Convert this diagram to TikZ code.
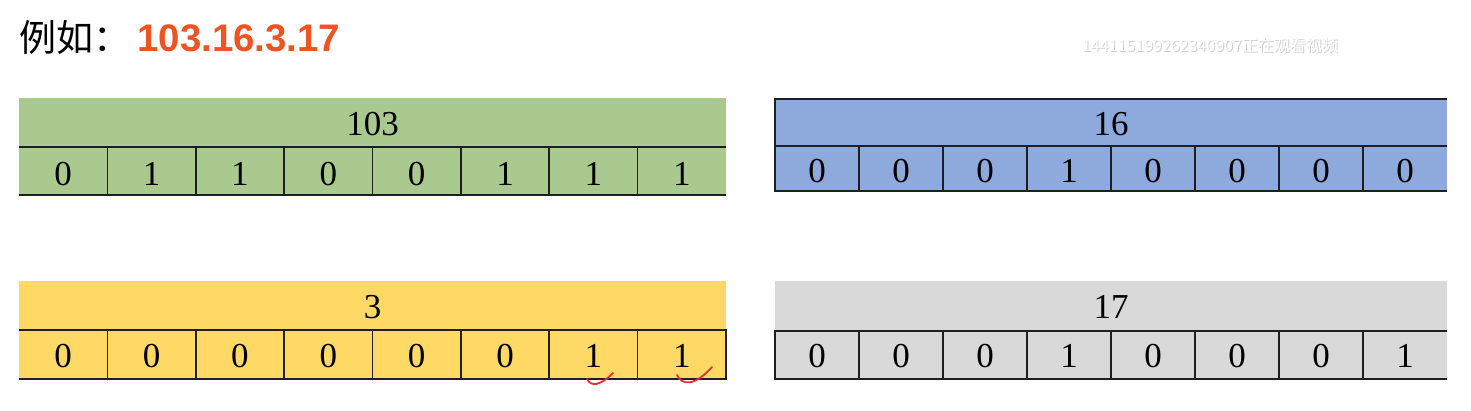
\documentclass[tikz,border=0pt]{standalone}
\usepackage{fontspec}
\setmainfont{Liberation Serif}
\newfontfamily\cjkfont{Noto Sans CJK SC}
\newfontfamily\arialfont{Liberation Sans}
\definecolor{cgreen}{HTML}{A9C98E}
\definecolor{cblue}{HTML}{8EA9DB}
\definecolor{cyellow}{HTML}{FFD966}
\definecolor{cgray}{HTML}{D9D9D9}
\definecolor{corange}{HTML}{F05322}
\definecolor{cred}{HTML}{E8302A}
\tikzset{
  digit/.style={font=\fontsize{17.5}{17.5}\selectfont, inner sep=0pt},
  gridline/.style={draw=black!88, line width=0.8pt},
  tick/.style={draw=cred, line width=0.9pt, line cap=round},
}
\begin{document}
\begin{tikzpicture}[x=0.5pt,y=-0.5pt]
\useasboundingbox (0,0) rectangle (1471,411);
\fill[white] (0,0) rectangle (1471,411);

% title
\node[anchor=base west, inner sep=0pt, font=\cjkfont\fontsize{18.5}{18.5}\selectfont] (title) at (19,52) {例如：};
\node[anchor=base west, inner sep=0pt, text=corange, font=\arialfont\bfseries\fontsize{19.2}{19.2}\selectfont] (addr) at (137,52) {103.16.3.17};
% watermark
\node[inner sep=0pt, text=black!18, font=\cjkfont\fontsize{8}{8}\selectfont] (wmshadow) at (1211,46) {144115199262340907正在观看视频};
\node[inner sep=0pt, text=white, font=\cjkfont\fontsize{8}{8}\selectfont] (wm) at (1210,45) {144115199262340907正在观看视频};

% ---- green block: 103 ----
\fill[cgreen] (19,98) rectangle (726,195);
\draw[gridline] (19,147) -- (726,147);
\draw[gridline] (19,195) -- (726,195);
\foreach \i in {1,...,7} \draw[gridline] ({19+\i*707/8},147) -- ({19+\i*707/8},195);
\node[digit] (g-head) at (372.5,124) {103};
\foreach \b [count=\i] in {0,1,1,0,0,1,1,1}
  \node[digit] (g-\i) at ({19+(\i-0.5)*707/8},174) {\b};

% ---- blue block: 16 ----
\fill[cblue] (775,99) rectangle (1447,191);
\draw[gridline] (1447,99) -- (775,99) -- (775,191) -- (1447,191);
\draw[gridline] (775,146) -- (1447,146);
\foreach \i in {1,...,7} \draw[gridline] ({775+\i*84},146) -- ({775+\i*84},191);
\node[digit] (b-head) at (1111,124) {16};
\foreach \b [count=\i] in {0,0,0,1,0,0,0,0}
  \node[digit] (b-\i) at ({775+(\i-0.5)*84},171) {\b};

% ---- yellow block: 3 ----
\fill[cyellow] (19,281) rectangle (726,379);
\draw[gridline] (19,330) -- (726,330) -- (726,379) -- (19,379);
\foreach \i in {1,...,7} \draw[gridline] ({19+\i*707/8},330) -- ({19+\i*707/8},379);
\node[digit] (y-head) at (372.5,307) {3};
\foreach \b [count=\i] in {0,0,0,0,0,0,1,1}
  \node[digit] (y-\i) at ({19+(\i-0.5)*707/8},356) {\b};

% ---- gray block: 17 ----
\fill[cgray] (775,281) rectangle (1447,379);
\draw[gridline] (1447,331) -- (775,331) -- (775,379) -- (1447,379);
\foreach \i in {1,...,7} \draw[gridline] ({775+\i*84},331) -- ({775+\i*84},379);
\node[digit] (k-head) at (1111,307) {17};
\foreach \b [count=\i] in {0,0,0,1,0,0,0,1}
  \node[digit] (k-\i) at ({775+(\i-0.5)*84},356) {\b};

% red hand-drawn ticks
\draw[tick] (587,379) .. controls (591,387) and (600,386) .. (613,373);
\draw[tick] (677,375) .. controls (682,386) and (695,386) .. (712,367);
\end{tikzpicture}
\end{document}
